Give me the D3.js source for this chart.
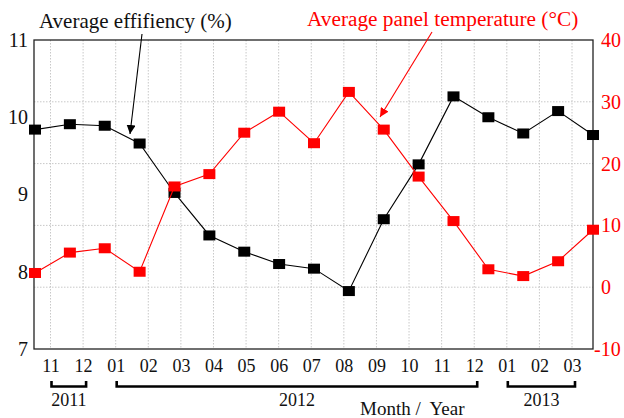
<!DOCTYPE html>
<html>
<head>
<meta charset="utf-8">
<script src="https://cdn.jsdelivr.net/npm/d3@7"></script>
<style>
  body { margin: 0; background: #fff; }
  svg text { font-family: "Liberation Serif", "Times New Roman", Times, serif; }
</style>
</head>
<body>
<div id="chart"></div>
<script>
// month labels along the bottom
var months = ["11", "12", "01", "02", "03", "04", "05", "06", "07", "08", "09", "10", "11", "12", "01", "02", "03"];
// year brackets: first and last month index
var years = [
  { label: "2011", from: 0, to: 1 },
  { label: "2012", from: 2, to: 13 },
  { label: "2013", from: 14, to: 16 }
];
// average efficiency (%), left axis
var efficiency = [9.84, 9.91, 9.89, 9.66, 9.02, 8.47, 8.26, 8.10, 8.04, 7.75, 8.68, 9.39, 10.27, 10.0, 9.79, 10.08, 9.77];
// average panel temperature (°C), right axis
var temperature = [2.3, 5.6, 6.3, 2.5, 16.3, 18.3, 25.0, 28.4, 23.3, 31.6, 25.5, 17.9, 10.7, 2.9, 1.8, 4.2, 9.3];
var leftTicks = [7, 8, 9, 10, 11];
var rightTicks = [-10, 0, 10, 20, 30, 40];

var serif = "'Liberation Serif', 'Times New Roman', serif";

var svgWidth = 624;
var svgHeight = 418;

var margin = { top: 40, right: 31, bottom: 69, left: 34 };
var width = svgWidth - margin.left - margin.right;
var height = svgHeight - margin.top - margin.bottom;

var svg = d3.select("#chart")
  .append("svg")
  .attr("width", svgWidth)
  .attr("height", svgHeight)
  .style("font-family", serif);

var chartGroup = svg.append("g")
  .attr("transform", `translate(${margin.left}, ${margin.top})`);

// scales
var idx = d3.range(months.length);
var xPoint = d3.scalePoint().domain(idx).range([1, width]);
var xLabel = d3.scalePoint().domain(idx).range([16.5, 538]);
var yLeft = d3.scaleLinear().domain([7, 11]).range([height, 0]);
var yRight = d3.scaleLinear().domain([-10, 40]).range([height, 0]);

// grid
chartGroup.append("g")
  .selectAll("line")
  .data(idx)
  .enter()
  .append("line")
  .attr("x1", d => xLabel(d))
  .attr("x2", d => xLabel(d))
  .attr("y1", 0)
  .attr("y2", height)
  .attr("stroke", "#c8c8c8")
  .attr("stroke-dasharray", "1.5,1.5");

chartGroup.append("g")
  .selectAll("line")
  .data(rightTicks.slice(1, -1))
  .enter()
  .append("line")
  .attr("x1", 0)
  .attr("x2", width)
  .attr("y1", d => yRight(d))
  .attr("y2", d => yRight(d))
  .attr("stroke", "#c8c8c8")
  .attr("stroke-dasharray", "1.5,1.5");

// frame
chartGroup.append("rect")
  .attr("width", width)
  .attr("height", height)
  .attr("fill", "none")
  .attr("stroke", "#222")
  .attr("stroke-width", 1.3);

// axes
var leftAxis = d3.axisLeft(yLeft).tickValues(leftTicks).tickSize(0).tickPadding(6).tickFormat(d3.format("d"));
var gl = chartGroup.append("g").call(leftAxis).attr("font-family", serif);
gl.select(".domain").remove();
gl.selectAll("text")
  .style("font-family", serif)
  .attr("font-size", "20px")
  .attr("fill", "#111");

var rightAxis = d3.axisRight(yRight).tickValues(rightTicks).tickSize(0).tickPadding(8)
  .tickFormat(d => d < 0 ? "-" + Math.abs(d) : d);
var gr = chartGroup.append("g")
  .attr("transform", `translate(${width}, 0)`)
  .call(rightAxis)
  .attr("font-family", serif);
gr.select(".domain").remove();
gr.selectAll("text")
  .style("font-family", serif)
  .attr("font-size", "20px")
  .attr("fill", "#ff0000")
  .attr("x", d => d < 0 ? 1 : 8);

var bottomAxis = d3.axisBottom(xLabel).tickSize(0).tickPadding(10).tickFormat(d => months[d]);
var gb = chartGroup.append("g")
  .attr("transform", `translate(0, ${height})`)
  .call(bottomAxis)
  .attr("font-family", serif);
gb.select(".domain").remove();
gb.selectAll("text")
  .style("font-family", serif)
  .attr("font-size", "18px")
  .attr("fill", "#111");

// year brackets
var brackets = chartGroup.append("g").attr("transform", `translate(0, ${height})`);
years.forEach(function(y) {
  var x0 = xLabel(y.from) + 1;
  var x1 = xLabel(y.to) + 3;
  brackets.append("path")
    .attr("d", `M${x0},32 L${x0},37.5 L${x1},37.5 L${x1},32`)
    .attr("fill", "none")
    .attr("stroke", "#000")
    .attr("stroke-width", 2.6);
  brackets.append("text")
    .attr("x", (x0 + x1) / 2)
    .attr("y", 57)
    .attr("text-anchor", "middle")
    .attr("font-size", "18px")
    .attr("fill", "#111")
    .text(y.label);
});

chartGroup.append("text")
  .attr("x", 326)
  .attr("y", height + 66)
  .attr("font-size", "19px")
  .attr("fill", "#111")
  .attr("xml:space", "preserve")
  .text("Month /  Year");

// lines
var effLine = d3.line().x((d, i) => xPoint(i)).y(d => yLeft(d));
var tempLine = d3.line().x((d, i) => xPoint(i)).y(d => yRight(d));

chartGroup.append("path")
  .datum(efficiency)
  .attr("d", effLine)
  .attr("fill", "none")
  .attr("stroke", "#000")
  .attr("stroke-width", 1.1);

chartGroup.selectAll(".effMark")
  .data(efficiency)
  .enter()
  .append("rect")
  .attr("class", "effMark")
  .attr("x", (d, i) => xPoint(i) - 6)
  .attr("y", d => yLeft(d) - 5)
  .attr("width", 12)
  .attr("height", 10)
  .attr("fill", "#000");

chartGroup.append("path")
  .datum(temperature)
  .attr("d", tempLine)
  .attr("fill", "none")
  .attr("stroke", "#ff0000")
  .attr("stroke-width", 1.1);

chartGroup.selectAll(".tempMark")
  .data(temperature)
  .enter()
  .append("rect")
  .attr("class", "tempMark")
  .attr("x", (d, i) => xPoint(i) - 6)
  .attr("y", d => yRight(d) - 5)
  .attr("width", 12)
  .attr("height", 10)
  .attr("fill", "#ff0000");

// annotations
var defs = svg.append("defs");
[["arrowBlack", "#000"], ["arrowRed", "#ff0000"]].forEach(function(a) {
  defs.append("marker")
    .attr("id", a[0])
    .attr("viewBox", "0 0 10 10")
    .attr("refX", 10)
    .attr("refY", 5)
    .attr("markerWidth", 9)
    .attr("markerHeight", 9)
    .attr("markerUnits", "userSpaceOnUse")
    .attr("orient", "auto")
    .append("path")
    .attr("d", "M0,0 L10,5 L0,10 Z")
    .attr("fill", a[1]);
});

svg.append("text")
  .attr("x", 39)
  .attr("y", 28)
  .attr("font-size", "21px")
  .attr("fill", "#111")
  .text("Average effifiency (%)");

svg.append("line")
  .attr("x1", 142).attr("y1", 34)
  .attr("x2", 130).attr("y2", 134)
  .attr("stroke", "#000")
  .attr("stroke-width", 1.1)
  .attr("marker-end", "url(#arrowBlack)");

svg.append("text")
  .attr("x", 307)
  .attr("y", 26)
  .attr("font-size", "21.3px")
  .attr("fill", "#ff0000")
  .text("Average panel temperature (°C)");

svg.append("line")
  .attr("x1", 432).attr("y1", 32)
  .attr("x2", 380).attr("y2", 117)
  .attr("stroke", "#ff0000")
  .attr("stroke-width", 1.1)
  .attr("marker-end", "url(#arrowRed)");
</script>
</body>
</html>
